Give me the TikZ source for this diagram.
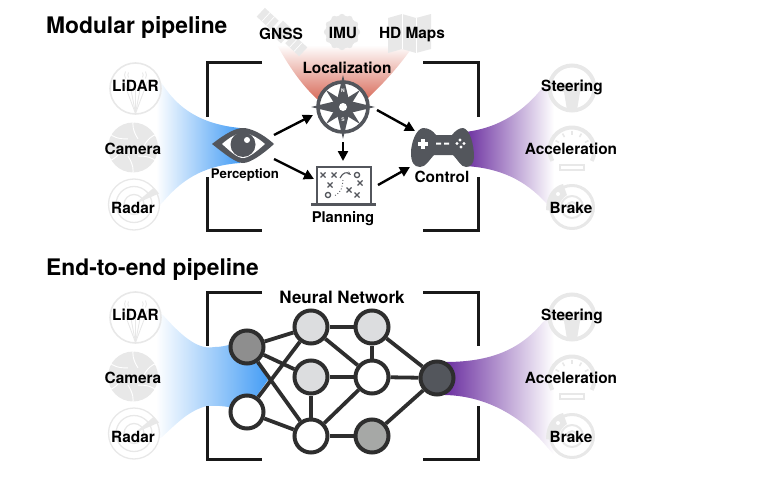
\documentclass[tikz,border=0pt]{standalone}
\usepackage{fontspec}
\setmainfont{TeX Gyre Heros}
\usetikzlibrary{arrows.meta,calc}
\definecolor{ink}{HTML}{53565C}
\definecolor{icon}{HTML}{E8E8E8}
\definecolor{fblue}{HTML}{459DF5}
\definecolor{fpurple}{HTML}{6B2FA0}
\definecolor{fred}{HTML}{D96F5E}
\definecolor{gdark}{HTML}{8E8E8E}
\definecolor{glight}{HTML}{DCDDDF}
\definecolor{gmid}{HTML}{A6A8A6}
\tikzset{
  x=1pt,y=-1pt,
  title/.style={font=\fontsize{22.8}{26}\selectfont\bfseries,anchor=west,inner sep=0pt},
  lab/.style={font=\fontsize{15.4}{17}\selectfont\bfseries,inner sep=0pt},
  brk/.style={line width=3pt,black!90,miter limit=10},
  arw/.style={line width=2.4pt,black,-{Triangle[length=10pt,width=10pt]}},
  nn/.style={circle,draw=black!82,line width=4pt,minimum size=33pt,inner sep=0pt},
  edge/.style={line width=3.8pt,black!82},
  il/.style={draw=icon,line width=1.3pt},
  iw/.style={draw=white,line width=.9pt},
  pics/lidaricon/.style={code={
    \draw[il,line width=1.6pt] (0,0) circle (25.5);
    \foreach \a in {-12,-6,0,6,12}{\draw[il,line width=.9pt] (0,25) -- ($(0,25)+(\a,-32)$);}
    \draw[il,line width=.9pt] (-7,-16) arc (210:150:5) (7,-16) arc (-30:30:5);
    \draw[il,line width=.9pt] (-10,-17) arc (210:150:7) (10,-17) arc (-30:30:7);
  }},
  pics/cameraicon/.style={code={
    \fill[icon] (0,0) circle (25);
    \foreach \a in {0,60,...,300}{\draw[iw,rotate=\a] (10,0) .. controls (14,-8) and (20,-13) .. (24,-13);}
  }},
  pics/radaricon/.style={code={
    \draw[il] (0,0) circle (25.5);
    \draw[il] (0,0) circle (18);
    \draw[il] (0,0) circle (10);
    \fill[icon] (0,0) -- (20,-17) -- (25,-11) -- cycle;
  }},
  pics/wheelicon/.style={code={
    \draw[draw=icon,line width=4pt] (0,0) circle (22.5);
    \fill[icon] (-22,-3) -- (-8,-5) -- (8,-5) -- (22,-3) -- (22,2) -- (8,4) -- (5,22) -- (-5,22) -- (-8,4) -- (-22,2) -- cycle;
    \fill[white] (0,-1) circle (2.5);
  }},
  pics/gaugeicon/.style={code={
    \draw[draw=icon,line width=4pt] (151:22.5) arc (151:389:22.5);
    \foreach \a in {210,240,270,300,330}{\draw[icon,line width=1.6pt] (\a:15) -- (\a:19);}
    \draw[il,line width=1.6pt] (-12,15) rectangle (12,20);
  }},
  pics/brakeicon/.style={code={
    \draw[draw=icon,line width=3pt] (0,0) circle (21.5);
    \draw[il,line width=2pt] (0,0) circle (11);
    \draw[il,line width=2pt] (0,0) circle (5);
    \fill[icon] (-9,-23) .. controls (-18,-21) and (-26,-12) .. (-26,3) -- (-14,5) .. controls (-14,-3) and (-10,-9) .. (-5,-12) -- cycle;
    \fill[white] (-14,-13) circle (2) (-19,-4) circle (2);
  }},
}
\begin{document}
\begin{tikzpicture}
\useasboundingbox (0,0) rectangle (758,487);
% funnels, upper
\shade[bottom color=fred,top color=white,middle color=fred!50]
  (277,45) .. controls (292,72) and (305,88) .. (317,99) -- (367,99) .. controls (385,82) and (400,65) .. (414,45) -- cycle;
\shade[left color=white,right color=fblue]
  (156,80) -- (163,85) .. controls (178,108) and (200,124) .. (240,128) -- (240,163)
  .. controls (200,166) and (180,182) .. (162,203) -- (156,208) -- cycle;
\shade[left color=fpurple,right color=white]
  (465,132) .. controls (500,128) and (525,110) .. (543,87) -- (554,80) -- (554,210) -- (546,203)
  .. controls (525,180) and (500,168) .. (465,166) -- cycle;
% funnels, lower
\shade[left color=white,right color=fblue]
  (156,312) -- (163,315) .. controls (185,340) and (200,350) .. (215,347) .. controls (225,347) and (235,343) .. (245,340)
  -- (268,380) -- (245,412) .. controls (235,408) and (225,405) .. (207,406)
  .. controls (190,410) and (178,422) .. (162,437) -- (156,440) -- cycle;
\shade[left color=fpurple,right color=white]
  (445,362) .. controls (490,362) and (520,350) .. (543,322) -- (554,314) -- (554,455) -- (547,447)
  .. controls (525,420) and (490,396) .. (445,395) -- cycle;
% side icons
\foreach \dy in {0,229}{
  \pic at (135.5,88.5+\dy) {lidaricon};
  \pic at (133,147.5+\dy) {cameraicon};
  \pic at (134,204.5+\dy) {radaricon};
  \pic at (572,88+\dy) {wheelicon};
  \pic at (572,150+\dy) {gaugeicon};
  \pic at (572,207+\dy) {brakeicon};
}
% satellite
\begin{scope}[shift={(282,32)},rotate=-43]
  \fill[icon] (-29,-6) rectangle (-10,6);
  \fill[icon] (10,-6) rectangle (29,6);
  \fill[icon] (-7,-9) rectangle (7,9);
  \draw[white,line width=.7pt] (-22,-6) -- (-22,6) (-16,-6) -- (-16,6) (16,-6) -- (16,6) (22,-6) -- (22,6);
\end{scope}
% IMU gear
\fill[icon] (342,32) circle (16.5);
\foreach \a in {0,30,...,330}{\fill[icon] ($(342,32)+(\a:15)$) circle (3.2);}
% HD map
\fill[icon] (388,18) -- (402,14) -- (416,18) -- (431,14) -- (431,49) -- (416,53) -- (402,49) -- (388,53) -- cycle;
\draw[white,line width=.8pt] (402,14) -- (402,49) (416,18) -- (416,53);
% brackets
\foreach \dy in {0,229}{
  \draw[brk] (262,63+\dy) -- (207,63+\dy) -- (207,117+\dy);
  \draw[brk] (207,177+\dy) -- (207,230+\dy) -- (262,230+\dy);
  \draw[brk] (423,63+\dy) -- (478,63+\dy) -- (478,117+\dy);
  \draw[brk] (478,177+\dy) -- (478,230+\dy) -- (423,230+\dy);
}
% eye
\fill[ink] (212,144) .. controls (226,133) and (236,128) .. (243,128) .. controls (250,128) and (262,133) .. (274,144)
  .. controls (262,155) and (250,163) .. (243,163) .. controls (236,163) and (226,155) .. (212,144) -- cycle;
\fill[white] (222,144) .. controls (230,137) and (237,133) .. (243,133) .. controls (249,133) and (257,137) .. (265,144)
  .. controls (257,151) and (249,158) .. (243,158) .. controls (237,158) and (230,151) .. (222,144) -- cycle;
\fill[ink] (243,144.5) circle (12.5);
\fill[white] (247,140) circle (3);
% compass
\fill[white] (343,107) circle (25);
\draw[ink,line width=3.6pt] (343,107) circle (25);
\begin{scope}[shift={(343,107)}]
  \foreach \a in {45,135,225,315}{\fill[ink] (\a:24) -- (\a+45:6.5) -- (0,0) -- (\a-45:6.5) -- cycle;}
  \foreach \a in {0,90,180,270}{\fill[ink] (\a:32) -- (\a+42:9) -- (\a+180:2) -- (\a-42:9) -- cycle;}
  \fill[white] (0,0) circle (4);
\end{scope}
\node[font=\fontsize{5}{5}\selectfont\bfseries,text=white,inner sep=0pt] (cn) at (343,91) {N};
\node[font=\fontsize{5}{5}\selectfont\bfseries,text=white,inner sep=0pt] (cs) at (343,120) {S};
% laptop
\draw[ink,line width=2pt] (316.5,204) -- (316.5,167) -- (371,167) -- (371,204);
\draw[ink,line width=2.6pt] (311,204.5) -- (376,204.5);
\foreach \px/\py in {323/175, 334/175, 330/185, 360/183, 349/190, 357/195}{
  \draw[ink,line width=1.3pt] (\px-2.5,\py-2.5) -- (\px+2.5,\py+2.5) (\px-2.5,\py+2.5) -- (\px+2.5,\py-2.5);
}
\draw[ink,line width=1.3pt] (357,175) circle (2.6) (328,195) circle (2.6);
\draw[ink,line width=1.1pt,-{Stealth[length=4pt]}] (340,178) .. controls (343,172) and (347,172) .. (351,175);
\draw[ink,line width=.9pt,dotted] (343,180) .. controls (342,188) and (342,192) .. (334,196);
% gamepad
\fill[ink] (423,128) .. controls (429,128) and (433,131) .. (436,135) -- (452,135) .. controls (455,131) and (459,128) .. (463,128)
  .. controls (470,129) and (474,145) .. (474,157) .. controls (474,164) and (470,167) .. (466,167)
  .. controls (461,167) and (458,160) .. (453,155) -- (434,155) .. controls (429,160) and (426,167) .. (420,167)
  .. controls (414,167) and (411,162) .. (411,153) .. controls (411,143) and (416,129) .. (423,128) -- cycle;
\fill[white] (420.5,139) rectangle (424.5,149);
\fill[white] (417.5,142) rectangle (427.5,146);
\fill[white] (436,142.5) rectangle (441,144.5) (444,142.5) rectangle (449,144.5);
\fill[white] (460,140) circle (1.6) (464,143.5) circle (1.6) (457,143.5) circle (1.6) (461,147) circle (1.6);
% arrows
\coordinate (eyeT) at (274,135);
\coordinate (eyeB) at (274,159);
\coordinate (compL) at (313,115);
\coordinate (compD) at (343,142);
\coordinate (compR) at (377,110);
\coordinate (planL) at (314,179);
\coordinate (planU) at (343,161);
\coordinate (planR) at (378,185);
\coordinate (padT) at (415,131);
\coordinate (padB) at (410,167);
\draw[arw] (eyeT) -- (compL);
\draw[arw] (eyeB) -- (planL);
\draw[arw] (compD) -- (planU);
\draw[arw] (compR) -- (padT);
\draw[arw] (planR) -- (padB);
% network
\node[nn,fill=gdark] (a1) at (247,347) {};
\node[nn,fill=white] (a2) at (247,412) {};
\node[nn,fill=glight] (b1) at (311,327) {};
\node[nn,fill=glight] (b2) at (311,377) {};
\node[nn,fill=white] (b3) at (311,436) {};
\node[nn,fill=glight] (c1) at (372,327) {};
\node[nn,fill=white] (c2) at (372,377) {};
\node[nn,fill=gmid] (c3) at (372,436) {};
\node[nn,fill=ink] (d1) at (437,378) {};
\foreach \p/\q in {a1/b1,a1/b2,a1/b3,a2/b1,a2/b3,b1/c1,b1/c2,b2/c2,b2/b3,b3/c2,b3/c3,c1/c2,c1/d1,c2/d1,c3/d1}{
  \draw[edge] (\p) -- (\q);
}
% titles and labels
\node[title] (t1) at (46,27) {Modular pipeline};
\node[title] (t2) at (46,269) {End-to-end pipeline};
\node[lab] (gnss) at (281,34) {GNSS};
\node[lab] (imu) at (343,33) {IMU};
\node[lab] (hd) at (412,35) {HD Maps};
\node[lab] (loc) at (347,68) {Localization};
\node[lab,font=\fontsize{13.2}{15}\selectfont\bfseries] (perc) at (245,175) {Perception};
\node[lab,font=\fontsize{14.8}{16}\selectfont\bfseries] (plan) at (343,219) {Planning};
\node[lab] (ctrl) at (442,177) {Control};
\node[lab,font=\fontsize{17}{19}\selectfont\bfseries] (nnet) at (342,297) {Neural Network};
\foreach \n/\dy in {u/0,v/229}{
  \node[lab] (lidar\n) at (135.5,86+\dy) {LiDAR};
  \node[lab] (cam\n) at (133,149+\dy) {Camera};
  \node[lab] (rad\n) at (133,208+\dy) {Radar};
  \node[lab] (steer\n) at (572,87+\dy) {Steering};
  \node[lab] (acc\n) at (571,149+\dy) {Acceleration};
  \node[lab] (brk\n) at (571,208+\dy) {Brake};
}
\end{tikzpicture}
\end{document}
